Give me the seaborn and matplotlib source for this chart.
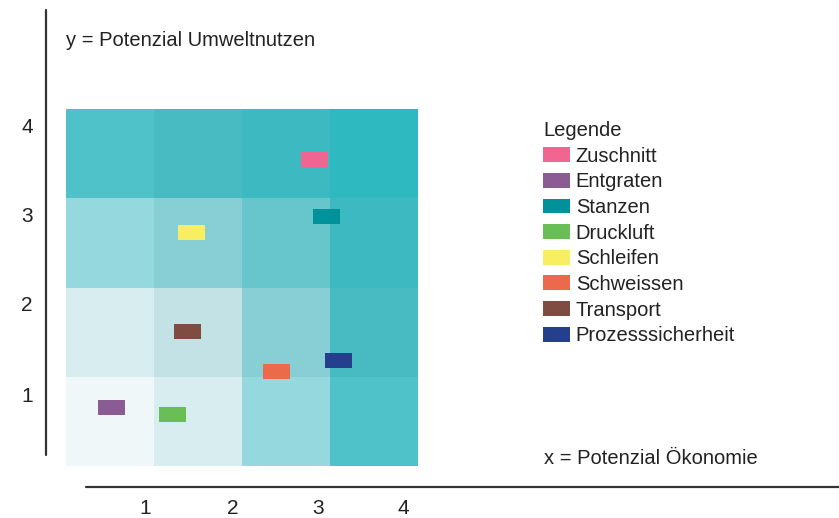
import matplotlib
matplotlib.use("Agg")
import matplotlib.pyplot as plt
from matplotlib.colors import ListedColormap
from matplotlib.patches import Patch
import numpy as np
import pandas as pd
import seaborn as sns

# grid levels, rows from y=1 (bottom) to y=4 (top), columns x=1..4
levels = [[0, 1, 3, 6],
          [1, 2, 4, 7],
          [3, 4, 5, 8],
          [6, 7, 8, 9]]
level_colors = ["#EFF7F9", "#D8EDF0", "#C2E2E6", "#95D8DE", "#87CFD5",
                "#66C6CC", "#4FC2C9", "#48BAC2", "#3CB9C1", "#2EB8C0"]

# process steps: (x, y) positions in grid units
steps = ["Zuschnitt", "Entgraten", "Stanzen", "Druckluft",
         "Schleifen", "Schweissen", "Transport", "Prozesssicherheit"]
step_x = [2.82, 0.52, 2.96, 1.21, 1.43, 2.39, 1.38, 3.10]
step_y = [3.43, 0.66, 2.80, 0.58, 2.62, 1.06, 1.51, 1.18]
step_colors = ["#F06690", "#8B5B93", "#00929A", "#69BF55",
               "#F8EE62", "#EB6A4B", "#7F4C42", "#243F8C"]

tick_labels = ["1", "2", "3", "4"]

sns.set_style("white")
plt.rcParams["font.family"] = ["Liberation Sans", "DejaVu Sans"]

fig = plt.figure(figsize=(8.39, 5.18), dpi=100)
ax = fig.add_axes([66 / 839, 1 - 466 / 518, 352 / 839, 357 / 518])

sns.heatmap(np.array(levels), cmap=ListedColormap(level_colors), vmin=-0.5,
            vmax=len(level_colors) - 0.5, cbar=False, ax=ax)
ax.invert_yaxis()

df = pd.DataFrame({"step": steps, "x": step_x, "y": step_y})
rect = [(-1, -0.56), (1, -0.56), (1, 0.56), (-1, 0.56)]
sns.scatterplot(data=df, x="x", y="y", hue="step", palette=dict(zip(steps, step_colors)),
                marker=rect, s=380, linewidth=0, legend=False, ax=ax)
ax.set_xlim(0, 4)
ax.set_ylim(0, 4)

ax.set_xticks([0.9, 1.89, 2.86, 3.83])
ax.set_xticklabels(tick_labels, fontsize=15, color="#222222")
ax.set_yticks([0.78, 1.8, 2.8, 3.79])
ax.set_yticklabels(tick_labels, fontsize=15, color="#222222", rotation=0)
ax.tick_params(axis="x", length=0, pad=24)
ax.tick_params(axis="y", length=0, pad=24)
ax.set_xlabel("")
ax.set_ylabel("")
for s in ax.spines.values():
    s.set_visible(False)

# decorative axis lines
fig.add_artist(plt.Line2D([46 / 839, 46 / 839], [1 - 10 / 518, 1 - 455 / 518],
                          color="#333333", lw=1.6, transform=fig.transFigure))
fig.add_artist(plt.Line2D([86 / 839, 1.0], [1 - 487 / 518, 1 - 487 / 518],
                          color="#333333", lw=1.6, transform=fig.transFigure))

fig.text(66 / 839, 1 - 41 / 518, "y = Potenzial Umweltnutzen", fontsize=14.5,
         color="#222222", va="center", ha="left")
fig.text(544 / 839, 1 - 458 / 518, "x = Potenzial Ökonomie", fontsize=14.5,
         color="#222222", va="center", ha="left")

handles = [Patch(facecolor=c, edgecolor="none") for c in step_colors]
leg = fig.legend(handles, steps, title="Legende", loc="upper left",
                 bbox_to_anchor=(543 / 839, 1 - 121 / 518), frameon=False,
                 fontsize=14.5, title_fontsize=14.5, alignment="left",
                 handlelength=1.35, handleheight=0.75, handletextpad=0.28,
                 labelspacing=0.33, borderpad=0, borderaxespad=0)
for t in leg.get_texts():
    t.set_color("#222222")
leg.get_title().set_color("#222222")

fig.savefig("out.png", dpi=100)
